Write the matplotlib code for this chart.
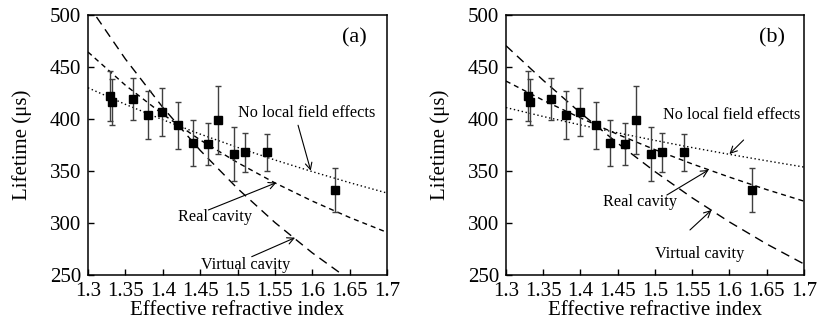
import matplotlib
matplotlib.use('Agg')
import matplotlib.pyplot as plt

plt.rcParams['font.family'] = ['Liberation Serif', 'DejaVu Serif']

# measured lifetimes
n_eff = [1.329, 1.332, 1.360, 1.380, 1.399, 1.421, 1.440, 1.460, 1.474, 1.495, 1.510, 1.539, 1.630]
tau = [422, 416, 419, 404, 407, 394, 377, 376, 399, 366, 368, 368, 332]
tau_err = [24, 22, 20, 23, 23, 22.5, 22, 20, 33, 26, 19, 18, 21]

# model curves, sampled every 0.05
n_model = [1.30, 1.35, 1.40, 1.45, 1.50, 1.55, 1.60, 1.65, 1.70]
a_none = [430.0, 414.1, 399.3, 385.5, 372.7, 360.6, 349.4, 338.8, 328.8]
a_real = [464.4, 432.5, 404.6, 379.9, 358.1, 338.6, 321.1, 305.3, 291.0]
a_virtual = [510.0, 457.7, 411.2, 369.9, 333.2, 300.5, 271.3, 245.3, 222.1]
b_none = [411.0, 402.4, 394.3, 386.7, 379.4, 372.5, 366.0, 359.8, 353.8]
b_real = [436.5, 418.0, 401.0, 385.2, 370.5, 356.8, 344.1, 332.1, 321.0]
b_virtual = [470.5, 437.2, 405.9, 376.7, 349.4, 324.2, 301.0, 279.8, 260.6]

x_ticks = [1.3, 1.35, 1.4, 1.45, 1.5, 1.55, 1.6, 1.65, 1.7]
x_ticklabels = ['1.3', '1.35', '1.4', '1.45', '1.5', '1.55', '1.6', '1.65', '1.7']
y_ticks = [250, 300, 350, 400, 450, 500]

# label text position, arrow tail, arrow tip (data coords)
a_notes = {
    'none': ((1.592, 405.5), (1.581, 394.0), (1.598, 350.3)),
    'real': ((1.470, 305.5), (1.461, 312.5), (1.552, 338.8)),
    'virtual': ((1.511, 259.6), (1.519, 267.6), (1.577, 285.9)),
}
b_notes = {
    'none': ((1.603, 403.8), (1.619, 379.8), (1.600, 366.3)),
    'real': ((1.480, 319.9), (1.516, 326.9), (1.572, 351.0)),
    'virtual': ((1.560, 269.9), (1.547, 293.3), (1.576, 312.5)),
}
note_text = {'none': 'No local field effects', 'real': 'Real cavity', 'virtual': 'Virtual cavity'}


def panel(ax, none, real, virtual, notes, tag):
    ax.plot(n_model, none, color='black', lw=1, linestyle=(0, (1, 1.9)))
    ax.plot(n_model, real, color='black', lw=1, linestyle=(0, (3.6, 2.9)))
    ax.plot(n_model, virtual, color='black', lw=1, linestyle=(0, (6.5, 4.3)))
    ax.errorbar(n_eff, tau, yerr=tau_err, fmt='s', color='black', ms=5.3,
                ecolor='0.25', elinewidth=1, capsize=2.5, capthick=1)
    for key, (txt, tail, tip) in notes.items():
        ax.text(txt[0], txt[1], note_text[key], fontsize=11.7, ha='center', va='center')
        ax.annotate('', xy=tip, xytext=tail,
                    arrowprops=dict(arrowstyle='->', lw=0.8, color='black',
                                    shrinkA=0, shrinkB=0, mutation_scale=12))
    ax.text(1.657, 477.6, tag, fontsize=16, ha='center', va='center')
    ax.set_xlim(1.3, 1.7)
    ax.set_ylim(250, 500)
    ax.set_xticks(x_ticks)
    ax.set_xticklabels(x_ticklabels)
    ax.set_yticks(y_ticks)
    ax.tick_params(direction='in', length=4, width=1, labelsize=15)
    ax.tick_params(axis='x', pad=5)
    ax.tick_params(axis='y', pad=5)
    for s in ax.spines.values():
        s.set_linewidth(1.1)
    ax.set_xlabel('Effective refractive index', fontsize=15, labelpad=0)
    ax.set_ylabel('Lifetime (μs)', fontsize=15, labelpad=13)


fig = plt.figure(figsize=(8.17, 3.31), dpi=100)
ax_a = fig.add_axes([0.1077, 0.1692, 0.366, 0.7855])
ax_b = fig.add_axes([0.6193, 0.1692, 0.3647, 0.7855])

panel(ax_a, a_none, a_real, a_virtual, a_notes, '(a)')
panel(ax_b, b_none, b_real, b_virtual, b_notes, '(b)')

fig.savefig('out.png', dpi=100)
